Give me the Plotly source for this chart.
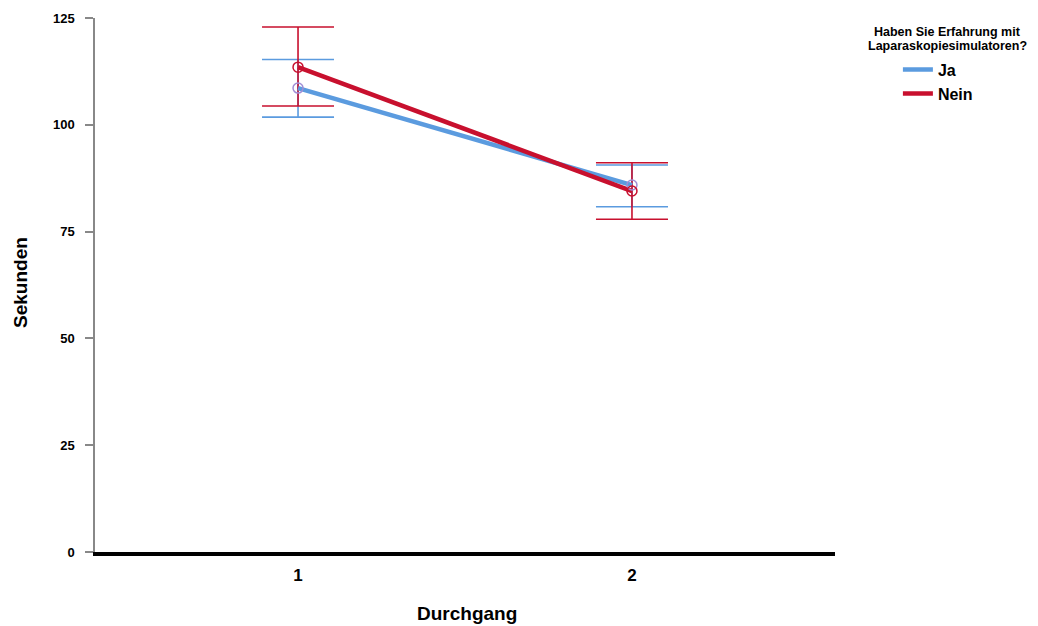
import plotly.graph_objects as go

durchgang = [1, 2]
groups = ["Ja", "Nein"]
means = {"Ja": [108.6, 85.9], "Nein": [113.5, 84.5]}
upper = {"Ja": [115.3, 90.6], "Nein": [122.9, 91.1]}
lower = {"Ja": [101.8, 80.8], "Nein": [104.4, 77.9]}
y_ticks = [0, 25, 50, 75, 100, 125]

line_colors = {"Ja": "#5B9BDF", "Nein": "#C8102E"}
marker_colors = {"Ja": "#A08ED6", "Nein": "#C8102E"}

FONT = "Liberation Sans, Arial, sans-serif"

fig = go.Figure()

# error bars
for g in groups:
    fig.add_trace(go.Scatter(
        x=durchgang, y=means[g], mode="markers",
        marker=dict(size=0.1, color="rgba(0,0,0,0)"),
        error_y=dict(type="data", symmetric=False,
                     array=[u - m for u, m in zip(upper[g], means[g])],
                     arrayminus=[m - l for m, l in zip(means[g], lower[g])],
                     color=line_colors[g], thickness=1.6, width=36),
        showlegend=False, hoverinfo="skip"))

# lines
for g in groups:
    fig.add_trace(go.Scatter(
        x=durchgang, y=means[g], mode="lines", name=g,
        line=dict(color=line_colors[g], width=4.5)))

# markers
for g in groups:
    fig.add_trace(go.Scatter(
        x=durchgang, y=means[g], mode="markers",
        marker=dict(symbol="circle-open", size=10,
                    line=dict(color=marker_colors[g], width=1.5),
                    color=marker_colors[g]),
        showlegend=False))

fig.update_layout(
    width=1038, height=626,
    margin=dict(l=95, r=203, t=18, b=74),
    paper_bgcolor="white", plot_bgcolor="white",
    font=dict(family=FONT, color="black"),
    xaxis=dict(range=[0.392, 2.608], tickvals=durchgang, ticktext=["1", "2"],
               showgrid=False, zeroline=False, showline=True,
               linecolor="black", linewidth=4, ticks="", automargin=False,
               ticklabelstandoff=5,
               tickfont=dict(size=17, family=FONT, weight="bold")),
    yaxis=dict(range=[0, 125], tickvals=y_ticks,
               showgrid=False, zeroline=False, showline=True,
               linecolor="#888888", linewidth=1.5, ticks="outside", automargin=False,
               ticklen=8, tickcolor="#888888", tickwidth=1.5,
               ticklabelstandoff=8,
               tickfont=dict(size=13, family=FONT, weight="bold")),
    legend=dict(x=1.085, y=0.935, xanchor="left", yanchor="top",
                font=dict(size=16, family=FONT, weight="bold"), bgcolor="rgba(0,0,0,0)",
                tracegroupgap=0, itemwidth=30),
    annotations=[
        dict(text="<b>Haben Sie Erfahrung mit</b>", xref="paper", yref="paper",
             x=1.1527, y=0.9738, xanchor="center", yanchor="middle",
             showarrow=False, font=dict(size=12.5, family=FONT)),
        dict(text="<b>Laparaskopiesimulatoren?</b>", xref="paper", yref="paper",
             x=1.1527, y=0.9476, xanchor="center", yanchor="middle",
             showarrow=False, font=dict(size=12.5, family=FONT)),
        dict(text="<b>Sekunden</b>", xref="paper", yref="paper",
             x=-0.1014, y=0.5056, xanchor="center", yanchor="middle", textangle=-90,
             showarrow=False, font=dict(size=19, family=FONT)),
        dict(text="<b>Durchgang</b>", xref="paper", yref="paper",
             x=0.5027, y=-0.1161, xanchor="center", yanchor="middle",
             showarrow=False, font=dict(size=19, family=FONT)),
    ],
)

fig.write_html("out.html")
